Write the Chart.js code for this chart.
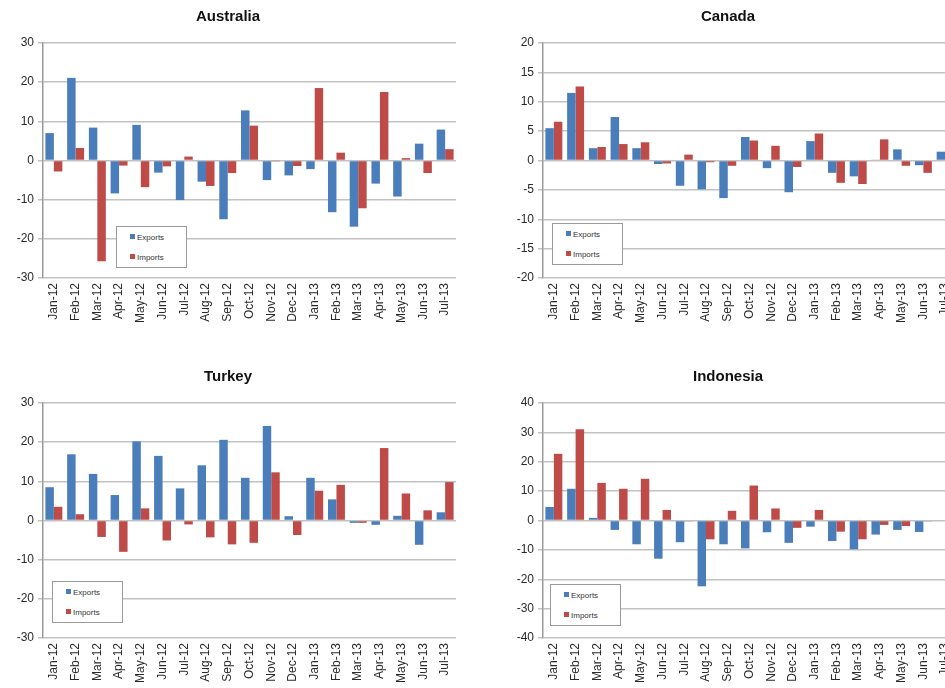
<!DOCTYPE html>
<html>
<head>
<meta charset="utf-8">
<script src="https://cdn.jsdelivr.net/npm/chart.js@4.4.1/dist/chart.umd.min.js"></script>
<style>
  html, body { margin: 0; padding: 0; overflow: hidden; background: #fff; }
  #page { position: relative; width: 945px; height: 688px; overflow: hidden; }
  .panel { position: absolute; width: 472px; height: 340px; }
  .legend {
    position: absolute; width: 71px; height: 42px; background: #fff;
    border: 1px solid #9a9a9a; box-sizing: border-box;
    font-family: "Liberation Sans", Arial, sans-serif; font-size: 8px; color: #333;
  }
  .legend div { position: absolute; left: 13px; height: 10px; line-height: 10px; }
  .legend span { display: inline-block; width: 5px; height: 5px; margin-right: 2px; vertical-align: 1px; }
</style>
</head>
<body>
<div id="page">
  <div class="panel" style="left:0;top:0"><canvas id="aus" width="472" height="340"></canvas></div>
  <div class="panel" style="left:500px;top:0"><canvas id="can" width="472" height="340"></canvas></div>
  <div class="panel" style="left:0;top:360px"><canvas id="tur" width="472" height="340"></canvas></div>
  <div class="panel" style="left:500px;top:360px"><canvas id="ido" width="472" height="340"></canvas></div>
</div>
<script>
const months = ['Jan-12', 'Feb-12', 'Mar-12', 'Apr-12', 'May-12', 'Jun-12', 'Jul-12', 'Aug-12', 'Sep-12',
  'Oct-12', 'Nov-12', 'Dec-12', 'Jan-13', 'Feb-13', 'Mar-13', 'Apr-13', 'May-13', 'Jun-13', 'Jul-13'];

const ausExports = [7.0, 21.1, 8.4, -8.4, 9.1, -3.1, -10.1, -5.4, -15.0, 12.8, -5.0, -3.8, -2.2, -13.2, -16.9, -5.9, -9.2, 4.3, 7.9];
const ausImports = [-2.8, 3.2, -25.7, -1.3, -6.8, -1.5, 1.0, -6.5, -3.2, 8.9, -0.1, -1.4, 18.5, 2.0, -12.2, 17.5, 0.6, -3.2, 2.9];

const canExports = [5.5, 11.5, 2.1, 7.4, 2.1, -0.6, -4.3, -4.9, -6.4, 4.0, -1.3, -5.4, 3.3, -2.1, -2.7, 0.1, 1.9, -0.8, 1.5];
const canImports = [6.6, 12.6, 2.3, 2.8, 3.1, -0.5, 1.0, -0.3, -0.9, 3.4, 2.5, -1.1, 4.6, -3.8, -4.0, 3.6, -0.9, -2.1, 1.0];

const turExports = [8.5, 16.9, 11.9, 6.5, 20.2, 16.5, 8.2, 14.1, 20.6, 10.9, 24.1, 1.1, 10.9, 5.4, -0.6, -1.1, 1.2, -6.2, 2.1];
const turImports = [3.5, 1.6, -4.2, -8.0, 3.1, -5.1, -1.0, -4.3, -6.1, -5.7, 12.3, -3.7, 7.6, 9.1, -0.6, 18.5, 6.9, 2.6, 9.8];

const idoExports = [4.6, 10.8, 0.9, -3.2, -8.1, -13.0, -7.4, -22.4, -8.1, -9.5, -4.0, -7.6, -2.1, -7.0, -9.8, -4.8, -3.2, -3.9, 0];
const idoImports = [22.7, 31.1, 12.8, 10.8, 14.2, 3.6, -0.2, -6.4, 3.3, 11.9, 4.1, -2.5, 3.6, -3.8, -6.4, -1.5, -1.9, -0.2, 0];

const BLUE = '#4a7ebb';
const RED = '#be4b48';
const FONT = '"Liberation Sans", Arial, sans-serif';

function makeChart(id, title, exportsData, importsData, min, max, step, legendPos) {
    const canvas = document.getElementById(id);
    const chart = new Chart(canvas, {
        type: 'bar',
        data: {
            labels: months,
            datasets: [
                { label: 'Exports', data: exportsData, backgroundColor: BLUE },
                { label: 'Imports', data: importsData, backgroundColor: RED }
            ]
        },
        options: {
            responsive: false,
            animation: false,
            layout: { padding: { top: 0, right: 16, bottom: 0, left: 0 } },
            datasets: { bar: { categoryPercentage: 0.78, barPercentage: 1.0 } },
            plugins: {
                legend: { display: false },
                tooltip: { enabled: false },
                title: {
                    display: true, text: title, color: '#111',
                    font: { family: FONT, size: 15, weight: 'bold' },
                    padding: { top: 8, bottom: 17 }
                }
            },
            scales: {
                x: {
                    grid: { display: false, drawTicks: false },
                    border: { display: false },
                    ticks: {
                        minRotation: 90, maxRotation: 90, autoSkip: false, padding: 5,
                        color: '#2a2a2a', font: { family: FONT, size: 12 }
                    },
                    afterFit: (scale) => { scale.height = 62; }
                },
                y: {
                    min: min, max: max,
                    grid: { color: '#c2c2c2', lineWidth: 1.5, tickLength: 5 },
                    border: { display: true, color: '#9a9a9a', width: 1.5 },
                    ticks: { stepSize: step, padding: 4, color: '#2a2a2a', font: { family: FONT, size: 12 } },
                    afterFit: (scale) => { scale.width = 43; }
                }
            }
        }
    });

    // legend box inside the plot, like the spreadsheet original
    const box = document.createElement('div');
    box.className = 'legend';
    box.style.left = legendPos[0] + 'px';
    box.style.top = legendPos[1] + 'px';
    chart.data.datasets.forEach((ds, i) => {
        const row = document.createElement('div');
        row.style.top = (6 + i * 20) + 'px';
        row.innerHTML = '<span style="background:' + ds.backgroundColor + '"></span>' + ds.label;
        box.appendChild(row);
    });
    canvas.parentNode.appendChild(box);
    return chart;
}

makeChart('aus', 'Australia', ausExports, ausImports, -30, 30, 10, [116, 226]);
makeChart('can', 'Canada', canExports, canImports, -20, 20, 5, [52, 223]);
makeChart('tur', 'Turkey', turExports, turImports, -30, 30, 10, [52, 221]);
makeChart('ido', 'Indonesia', idoExports, idoImports, -40, 40, 10, [50, 224]);
</script>
</body>
</html>
